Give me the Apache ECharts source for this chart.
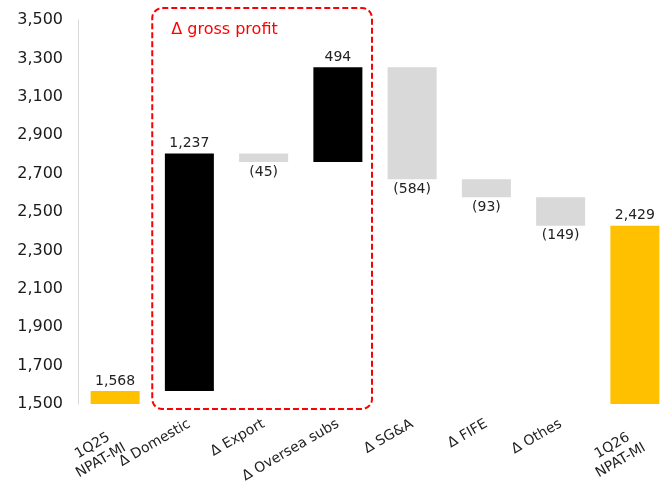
<!DOCTYPE html>
<html>
<head>
<meta charset="utf-8">
<script src="https://cdn.jsdelivr.net/npm/echarts@6/dist/echarts.min.js"></script>
<style>
  html, body { margin: 0; padding: 0; background: #fff; }
  #chart { width: 672px; height: 503px; }
</style>
</head>
<body>
<div id="chart"></div>
<script>
// Bridge from 1Q25 to 1Q26 NPAT-MI
const categories = ['1Q25\nNPAT-MI', 'Δ Domestic', 'Δ Export', 'Δ Oversea subs', 'Δ SG&A', 'Δ FIFE', 'Δ Othes', '1Q26\nNPAT-MI'];
const changes = [1568, 1237, -45, 494, -584, -93, -149, 2429];
const isTotal = [true, false, false, false, false, false, false, true];
const grossProfitItems = ['Δ Domestic', 'Δ Export', 'Δ Oversea subs'];
const yTicks = { min: 1500, max: 3500, step: 200 };

const COLOR_TOTAL = '#FFC000';
const COLOR_UP = '#000000';
const COLOR_DOWN = '#D9D9D9';
const FONT = 'DejaVu Sans';

// Build invisible base + visible segment for each step of the bridge
const baseData = [];
const barData = [];
let running = 0;
changes.forEach((v, i) => {
  if (isTotal[i]) {
    running = v;
    baseData.push(0);
    barData.push({ value: v, itemStyle: { color: COLOR_TOTAL }, label: { position: 'top' } });
  } else if (v >= 0) {
    baseData.push(running);
    barData.push({ value: v, itemStyle: { color: COLOR_UP }, label: { position: 'top' } });
    running += v;
  } else {
    running += v;
    baseData.push(running);
    barData.push({ value: -v, itemStyle: { color: COLOR_DOWN }, label: { position: 'bottom' } });
  }
});

function fmt(v) {
  const s = Math.abs(v).toLocaleString('en-US');
  return v < 0 ? '(' + s + ')' : s;
}

// Two-line category names hang from their top edge with centred lines
const axisData = categories.map(c => c.includes('\n')
  ? { value: c, textStyle: { verticalAlign: 'top' } }
  : c);

const chart = echarts.init(document.getElementById('chart'));
chart.setOption({
  animation: false,
  backgroundColor: '#ffffff',
  grid: { left: 78, top: 20, width: 597, height: 384, containLabel: false },
  xAxis: {
    type: 'category',
    data: axisData,
    axisLine: { show: false },
    axisTick: { show: false },
    axisLabel: {
      interval: 0,
      rotate: 30,
      margin: 19,
      fontSize: 14,
      lineHeight: 17,
      color: '#222222',
      fontFamily: FONT,
      formatter: v => v.includes('\n')
        ? v.split('\n').map(s => '{c|' + s + '}').join('\n')
        : v,
      rich: {
        c: { width: 62, align: 'center', fontSize: 14, lineHeight: 17, color: '#222222', fontFamily: FONT }
      }
    }
  },
  yAxis: {
    type: 'value',
    min: yTicks.min,
    max: yTicks.max,
    interval: yTicks.step,
    axisLine: { show: true, lineStyle: { color: '#D9D9D9', width: 1 } },
    axisTick: { show: false },
    splitLine: { show: false },
    axisLabel: {
      margin: 15,
      fontSize: 16,
      color: '#1a1a1a',
      fontFamily: FONT,
      formatter: v => v.toLocaleString('en-US')
    }
  },
  series: [
    {
      type: 'bar',
      stack: 'bridge',
      data: baseData,
      barWidth: 49,
      itemStyle: { color: 'transparent' },
      silent: true
    },
    {
      type: 'bar',
      stack: 'bridge',
      data: barData,
      barWidth: 49,
      label: {
        show: true,
        distance: 3,
        fontSize: 14,
        color: '#222222',
        fontFamily: FONT,
        formatter: p => fmt(changes[p.dataIndex])
      }
    }
  ]
});

// Dashed frame grouping the gross-profit components
const first = categories.indexOf(grossProfitItems[0]);
const last = categories.indexOf(grossProfitItems[grossProfitItems.length - 1]);
const band = chart.convertToPixel({ xAxisIndex: 0 }, 1) - chart.convertToPixel({ xAxisIndex: 0 }, 0);
const boxLeft = chart.convertToPixel({ xAxisIndex: 0 }, first) - band / 2;
const boxRight = chart.convertToPixel({ xAxisIndex: 0 }, last) + band / 2 - 3;
const boxTop = chart.convertToPixel({ yAxisIndex: 0 }, yTicks.max) - 12;
const boxBottom = chart.convertToPixel({ yAxisIndex: 0 }, yTicks.min) + 5;

chart.setOption({
  graphic: [
    {
      type: 'rect',
      shape: { x: boxLeft, y: boxTop, width: boxRight - boxLeft, height: boxBottom - boxTop, r: 10 },
      style: { fill: 'none', stroke: '#FF0000', lineWidth: 2, lineDash: [6, 3] },
      z: 10
    },
    {
      type: 'text',
      x: boxLeft + 19,
      y: boxTop + 22,
      style: {
        text: 'Δ gross profit',
        fill: '#FF0000',
        font: '16px "' + FONT + '"',
        textVerticalAlign: 'middle'
      },
      z: 10
    }
  ]
});
</script>
</body>
</html>
